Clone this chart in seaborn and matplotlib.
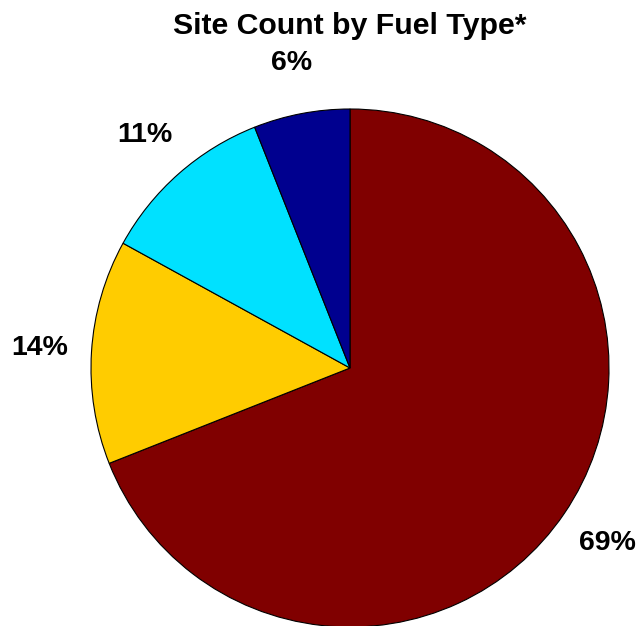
import matplotlib
matplotlib.use("Agg")
import matplotlib.pyplot as plt
import seaborn as sns

sns.set_style("white")
plt.rcParams["font.family"] = ["Liberation Sans", "DejaVu Sans"]

fuel_types = ["Fuel A", "Fuel B", "Fuel C", "Fuel D"]
site_share = [69, 14, 11, 6]
slice_colors = ["#800000", "#FFCC00", "#00E1FF", "#00008F"]

fig = plt.figure(figsize=(6.41, 6.26), dpi=100)
ax = fig.add_axes([91 / 641, -1 / 626, 518 / 641, 518 / 626])

ax.pie(site_share, colors=slice_colors, startangle=90, counterclock=False,
       autopct="%1.0f%%", pctdistance=1.2,
       wedgeprops={"edgecolor": "black", "linewidth": 0.8},
       textprops={"fontsize": 20.5, "fontweight": "bold", "color": "black"})
ax.set_xlim(-1, 1)
ax.set_ylim(-1, 1)
ax.set_aspect("equal")
ax.axis("off")

fig.text(350 / 641, 1 - 26 / 626, "Site Count by Fuel Type*", ha="center", va="center",
         fontsize=21.8, fontweight="bold", color="black")

fig.savefig("out.png", dpi=100)
plt.close(fig)
